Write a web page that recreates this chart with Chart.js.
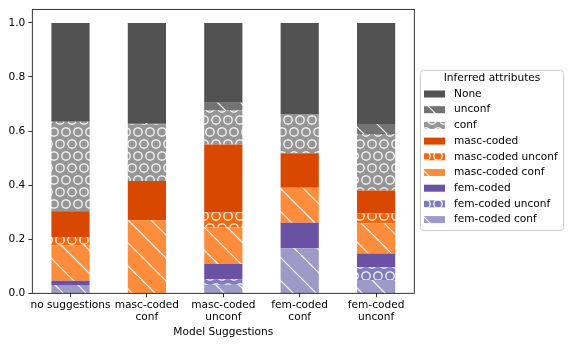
<!DOCTYPE html>
<html>
<head>
<meta charset="utf-8">
<script src="https://cdn.jsdelivr.net/npm/chart.js@4/dist/chart.umd.min.js"></script>
<style>
  html, body { margin: 0; padding: 0; background: #fff; }
  #wrap { width: 571px; height: 345px; }
</style>
</head>
<body>
<div id="wrap"><canvas id="chart1" width="571" height="345"></canvas></div>
<script>
// categories on the x axis
var categories = [
    'no suggestions',
    ['masc-coded', 'conf'],
    ['masc-coded', 'unconf'],
    ['fem-coded', 'conf'],
    ['fem-coded', 'unconf']
];

// shares per category, one array per inferred attribute (bottom to top)
var femCodedConf     = [0.031, 0.000, 0.032, 0.167, 0.049];
var femCodedUnconf   = [0.000, 0.000, 0.020, 0.000, 0.047];
var femCoded         = [0.015, 0.000, 0.056, 0.094, 0.051];
var mascCodedConf    = [0.132, 0.270, 0.135, 0.129, 0.111];
var mascCodedUnconf  = [0.030, 0.000, 0.057, 0.000, 0.037];
var mascCoded        = [0.095, 0.145, 0.250, 0.128, 0.085];
var conf             = [0.331, 0.210, 0.127, 0.145, 0.209];
var unconf           = [0.000, 0.005, 0.028, 0.000, 0.037];
var none             = [0.366, 0.370, 0.295, 0.337, 0.374];

var yTicks = [0, 0.2, 0.4, 0.6, 0.8, 1.0];

var FONT_SIZE = 10.6;

// hatched fills
function makePattern(bg, kind) {
    var c = document.createElement('canvas');
    var g = c.getContext('2d');
    if (kind === 'lines') {
        var t = 23;
        c.width = t; c.height = t;
        g.fillStyle = bg;
        g.fillRect(0, 0, t, t);
        g.strokeStyle = 'rgba(255,255,255,0.95)';
        g.lineWidth = 1.2;
        for (var k = -1; k <= 1; k++) {
            g.beginPath();
            g.moveTo(k * t, 0);
            g.lineTo(k * t + t, t);
            g.stroke();
        }
    } else if (kind === 'circles') {
        var w = 12, h = 24, r = 4.2;
        c.width = w; c.height = h;
        g.fillStyle = bg;
        g.fillRect(0, 0, w, h);
        g.strokeStyle = 'rgba(255,255,255,0.95)';
        g.lineWidth = 1.3;
        var pts = [[0, 0], [w, 0], [0, h], [w, h], [w / 2, h / 2]];
        pts.forEach(function (p) {
            g.beginPath();
            g.arc(p[0], p[1], r, 0, Math.PI * 2);
            g.stroke();
        });
    } else {
        return bg;
    }
    return g.createPattern(c, 'repeat');
}

var series = [
    { label: 'fem-coded conf',    data: femCodedConf,    color: '#9e9ac8', hatch: 'lines' },
    { label: 'fem-coded unconf',  data: femCodedUnconf,  color: '#807dba', hatch: 'circles' },
    { label: 'fem-coded',         data: femCoded,        color: '#6a51a3', hatch: null },
    { label: 'masc-coded conf',   data: mascCodedConf,   color: '#fd8d3c', hatch: 'lines' },
    { label: 'masc-coded unconf', data: mascCodedUnconf, color: '#f16913', hatch: 'circles' },
    { label: 'masc-coded',        data: mascCoded,       color: '#d94801', hatch: null },
    { label: 'conf',              data: conf,            color: '#969696', hatch: 'circles' },
    { label: 'unconf',            data: unconf,          color: '#737373', hatch: 'lines' },
    { label: 'None',              data: none,            color: '#525252', hatch: null }
];

var datasets = series.map(function (s) {
    return {
        label: s.label,
        data: s.data,
        backgroundColor: makePattern(s.color, s.hatch),
        borderWidth: 0,
        categoryPercentage: 1.0,
        barPercentage: 0.5
    };
});

// box around the plot, and the legend on the right
var framePlugin = {
    id: 'frame',
    afterDraw: function (chart) {
        var ctx = chart.ctx;
        var a = chart.chartArea;
        ctx.save();
        ctx.strokeStyle = '#000';
        ctx.lineWidth = 0.8;
        ctx.strokeRect(a.left, a.top, a.right - a.left, a.bottom - a.top);

        // legend box
        var lx = 420, ly = 70, lw = 143, lh = 160, rr = 3;
        ctx.beginPath();
        ctx.roundRect(lx + 0.5, ly + 0.5, lw, lh, rr);
        ctx.fillStyle = 'rgba(255,255,255,0.8)';
        ctx.fill();
        ctx.strokeStyle = '#cccccc';
        ctx.lineWidth = 1;
        ctx.stroke();

        ctx.fillStyle = '#000';
        ctx.font = FONT_SIZE + 'px "DejaVu Sans"';
        ctx.textBaseline = 'middle';
        ctx.textAlign = 'center';
        ctx.fillText('Inferred attributes', 492, 78.5);

        ctx.textAlign = 'left';
        var items = chart.data.datasets.slice().reverse();
        items.forEach(function (ds, i) {
            var cy = 94 + i * 15.7;
            ctx.fillStyle = ds.backgroundColor;
            ctx.fillRect(424, cy - 3.5, 21, 7);
            ctx.fillStyle = '#000';
            ctx.fillText(ds.label, 454, cy);
        });
        ctx.restore();
    }
};

Chart.defaults.font.family = '"DejaVu Sans", sans-serif';
Chart.defaults.font.size = FONT_SIZE;
Chart.defaults.color = '#000';

var ctx = document.getElementById('chart1').getContext('2d');
var chart = new Chart(ctx, {
    type: 'bar',
    data: {
        labels: categories,
        datasets: datasets
    },
    options: {
        responsive: false,
        animation: false,
        devicePixelRatio: 1,
        layout: {
            padding: { left: 0, top: 7.3, right: 156.7, bottom: 0 }
        },
        plugins: {
            legend: { display: false },
            tooltip: { enabled: false }
        },
        scales: {
            x: {
                stacked: true,
                offset: true,
                border: { display: false },
                grid: {
                    offset: false,
                    drawOnChartArea: false,
                    drawTicks: true,
                    tickLength: 4,
                    color: '#000',
                    lineWidth: 0.8
                },
                ticks: {
                    maxRotation: 0,
                    autoSkip: false,
                    padding: 2,
                    font: { size: FONT_SIZE, lineHeight: 1.1 }
                },
                title: {
                    display: true,
                    text: 'Model Suggestions',
                    font: { size: FONT_SIZE, lineHeight: 1.2 },
                    padding: { top: 2, bottom: 6.5 }
                },
                afterFit: function (s) { s.height = 345 - 293.3; }
            },
            y: {
                stacked: true,
                min: 0,
                max: 1.05,
                border: { display: false },
                grid: {
                    drawOnChartArea: false,
                    drawTicks: true,
                    tickLength: 4,
                    color: '#000',
                    lineWidth: 0.8
                },
                ticks: {
                    padding: 3,
                    callback: function (v) { return Number(v).toFixed(1); }
                },
                afterBuildTicks: function (axis) {
                    axis.ticks = yTicks.map(function (v) { return { value: v }; });
                },
                afterFit: function (s) { s.width = 32.3; }
            }
        }
    },
    plugins: [framePlugin]
});
</script>
</body>
</html>
